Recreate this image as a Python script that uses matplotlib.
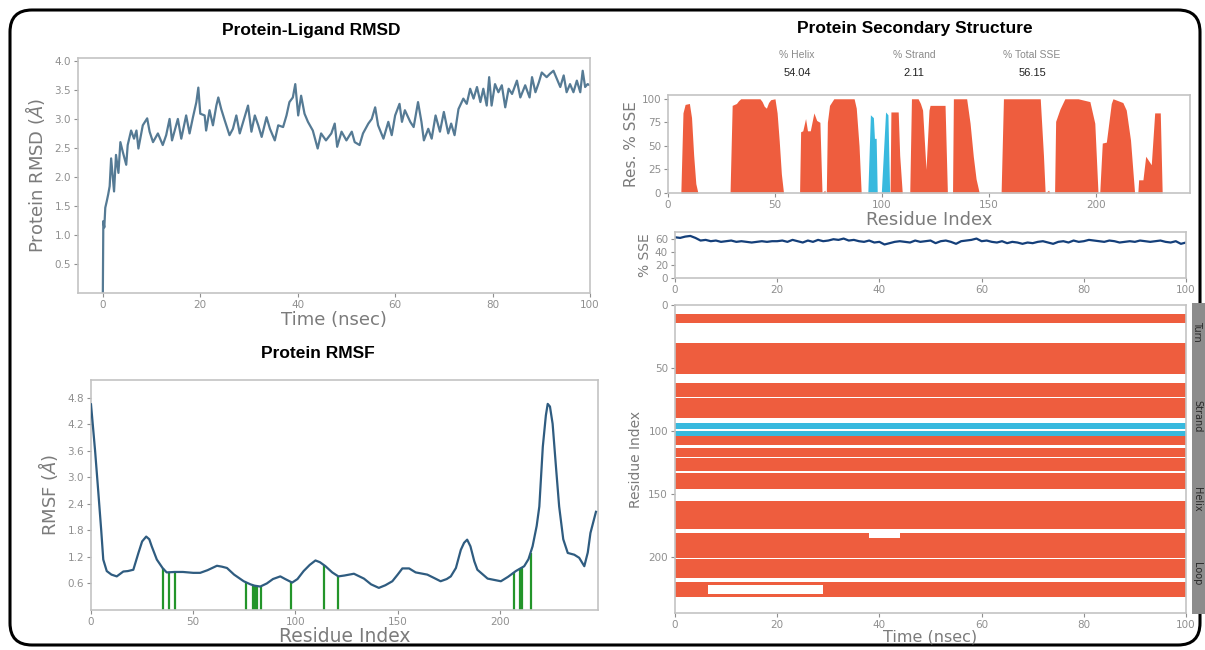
import numpy as np
import matplotlib
matplotlib.use("Agg")
import matplotlib.pyplot as plt
from matplotlib.patches import FancyBboxPatch
from matplotlib.colors import ListedColormap

# ---------------- data ----------------
rmsd_time = [0, 0.1, 0.3, 0.5, 0.8, 1.1, 1.4, 1.7, 2.3, 2.7,
             3.2, 3.6, 4.1, 4.8, 5.1, 5.8, 6.4, 6.9, 7.3, 8.2,
             9.1, 9.6, 10.3, 11.3, 12.3, 13.0, 13.7, 14.2, 15.4, 16.1,
             17.1, 17.8, 18.5, 19.2, 19.6, 20.0, 20.9, 21.2, 21.9, 22.6,
             23.3, 23.7, 24.3, 25.0, 26.0, 26.7, 27.4, 28.1, 28.8, 29.8,
             30.5, 31.2, 31.9, 32.6, 33.6, 34.3, 35.3, 36.0, 37.0, 37.7,
             38.3, 39.0, 39.5, 40.1, 40.7, 41.4, 42.1, 43.1, 44.1, 44.8,
             45.8, 46.9, 47.6, 48.1, 49.0, 50.0, 51.1, 51.7, 52.7, 53.4,
             54.5, 55.2, 55.9, 56.5, 57.6, 58.6, 59.3, 60.0, 60.9, 61.4,
             62.0, 63.1, 63.8, 64.7, 65.4, 65.9, 66.8, 67.5, 68.3, 69.2,
             70.0, 70.9, 71.5, 72.2, 73.0, 74.0, 74.7, 75.4, 76.1, 76.8,
             77.5, 78.1, 78.8, 79.3, 79.8, 80.5, 81.2, 81.9, 82.6, 83.3,
             84.0, 85.0, 85.7, 86.7, 87.6, 88.1, 88.8, 89.5, 90.1, 91.1,
             91.8, 92.5, 93.2, 93.9, 94.6, 95.2, 95.9, 96.6, 97.3, 98.0,
             98.5, 99.0, 99.5, 100.0]
rmsd_val = [0.02, 1.24, 1.13, 1.47, 1.58, 1.70, 1.84, 2.32, 1.75, 2.38,
            2.07, 2.60, 2.43, 2.21, 2.55, 2.80, 2.66, 2.80, 2.49, 2.89,
            3.01, 2.78, 2.60, 2.75, 2.55, 2.72, 3.00, 2.63, 3.00, 2.66,
            3.06, 2.75, 3.03, 3.29, 3.54, 3.09, 3.06, 2.80, 3.15, 2.89,
            3.23, 3.37, 3.17, 2.98, 2.72, 2.83, 3.06, 2.75, 2.95, 3.23,
            2.78, 3.06, 2.89, 2.69, 3.03, 2.83, 2.63, 2.89, 2.86, 3.06,
            3.29, 3.37, 3.60, 3.06, 3.40, 3.09, 2.95, 2.80, 2.49, 2.75,
            2.63, 2.75, 2.92, 2.52, 2.78, 2.63, 2.78, 2.60, 2.55, 2.75,
            2.92, 3.00, 3.20, 2.89, 2.66, 2.95, 2.72, 3.06, 3.26, 2.95,
            3.15, 2.95, 2.86, 3.29, 2.95, 2.63, 2.83, 2.66, 3.06, 2.78,
            3.12, 2.75, 2.92, 2.72, 3.17, 3.35, 3.26, 3.52, 3.35, 3.55,
            3.29, 3.52, 3.23, 3.72, 3.23, 3.60, 3.46, 3.58, 3.20, 3.52,
            3.43, 3.66, 3.37, 3.58, 3.37, 3.72, 3.46, 3.63, 3.80, 3.72,
            3.78, 3.83, 3.69, 3.55, 3.75, 3.46, 3.60, 3.46, 3.66, 3.46,
            3.83, 3.55, 3.60, 3.58]

rmsf_res = [0, 2, 3.6, 5, 6, 7.7, 10, 12.6, 15.8, 18,
            20.7, 23.2, 25, 27, 28.5, 29.7, 32.2, 35, 37, 41,
            45, 50, 53.4, 57, 61.6, 64, 66.5, 70, 74.7, 78,
            80, 82.8, 86, 89, 92.6, 95, 98.4, 101, 104, 107,
            109.8, 112, 114.7, 118, 121, 124, 128.6, 133.5, 137, 140.8,
            144, 147.4, 150, 152.3, 155.6, 158.8, 164.5, 168, 171, 174,
            176, 178.5, 180.9, 182.5, 184, 185.6, 187.5, 189, 194, 200.5,
            204, 207.8, 211.9, 214, 216, 218, 219.3, 221, 222.5, 223.4,
            224.5, 225.8, 227.5, 229, 231, 233.2, 236.4, 238.8, 241.3, 243,
            244.3, 247]
rmsf_val = [4.65, 3.6, 2.65, 1.8, 1.14, 0.88, 0.80, 0.76, 0.87, 0.88,
            0.91, 1.29, 1.55, 1.66, 1.60, 1.44, 1.14, 0.95, 0.85, 0.86,
            0.86, 0.84, 0.84, 0.90, 1.00, 0.98, 0.95, 0.80, 0.65, 0.58,
            0.55, 0.53, 0.60, 0.70, 0.76, 0.70, 0.62, 0.70, 0.88, 1.02,
            1.12, 1.08, 0.99, 0.85, 0.76, 0.78, 0.82, 0.71, 0.58, 0.50,
            0.56, 0.65, 0.80, 0.94, 0.94, 0.85, 0.80, 0.72, 0.65, 0.70,
            0.76, 0.95, 1.36, 1.52, 1.59, 1.44, 1.10, 0.91, 0.71, 0.65,
            0.75, 0.88, 0.99, 1.15, 1.44, 1.90, 2.34, 3.69, 4.40, 4.66,
            4.60, 4.21, 3.20, 2.34, 1.60, 1.29, 1.25, 1.18, 0.99, 1.30,
            1.74, 2.22]
contact_res = [35, 38, 41, 76, 79, 80, 81, 83, 98, 114, 121, 207, 210, 211, 215]

helix_res = [6, 7, 8, 10, 11, 12, 13, 14,
             29, 30, 32, 33, 34, 43, 44, 45, 46, 47, 48, 50, 51, 52, 53, 54,
             61.5, 62, 63, 64.3, 65.2, 66.5, 68.2, 69.5, 71, 72, 73.3, 73.6, 74,
             74.5, 75.5, 77.5, 87, 88, 89.3, 90.3,
             103.8, 104.2, 107.6, 108.3, 109.5,
             113, 113.8, 116.9, 118, 119, 120.6, 122, 122.5, 129.5, 130.6,
             133, 133.4, 139.6, 141.2, 142.7, 144, 145.5,
             155.7, 156.8, 174, 175.5, 176.3, 177.9, 178.5,
             180.7, 181.2, 183.2, 185.5, 191.7, 197.2, 199.5, 201,
             201.8, 203, 204.9, 207.2, 208, 212.6, 214.2, 216.2, 218.1,
             219.6, 220, 222, 223.3, 225.9, 227.5, 230.1, 231]
helix_pct = [0, 85, 94, 95, 80, 40, 10, 0,
             0, 93, 95, 98, 100, 100, 97, 92, 90, 96, 99, 100, 85, 55, 20, 0,
             0, 65, 66, 79, 66, 66, 85, 77, 75, 0, 3, 0, 0,
             75, 93, 100, 100, 90, 50, 0,
             0, 86, 86, 40, 0,
             0, 100, 100, 95, 88, 25, 88, 93, 93, 0,
             0, 100, 100, 74, 39, 15, 0,
             0, 100, 100, 40, 0, 3, 0,
             0, 76, 89, 100, 100, 97, 74, 0,
             0, 53, 54, 95, 100, 96, 88, 56, 0,
             0, 14, 14, 39, 30, 85, 85, 0]
strand_res = [93.4, 94.6, 96, 96.5, 97.3, 97.8, 99.7, 101.7, 102.8, 103.6]
strand_pct = [0, 83, 80, 58, 58, 0, 0, 86, 83, 0]

sse_summary_labels = ["% Helix", "% Strand", "% Total SSE"]
sse_summary_values = ["54.04", "2.11", "56.15"]

sse_time = list(range(101))
sse_total = [62, 61, 63, 64, 61, 57, 58, 56, 57, 55,
             56, 57, 55, 56, 55, 54, 55, 56, 55, 56,
             56, 57, 55, 58, 56, 54, 57, 55, 58, 56,
             57, 59, 58, 60, 57, 58, 56, 55, 57, 54,
             55, 51, 53, 55, 56, 55, 54, 57, 55, 56,
             57, 53, 56, 57, 55, 52, 56, 57, 58, 60,
             56, 57, 55, 54, 56, 53, 55, 54, 52, 54,
             53, 55, 56, 54, 52, 55, 56, 54, 57, 55,
             56, 58, 57, 56, 55, 57, 56, 54, 55, 56,
             55, 57, 56, 55, 56, 57, 55, 54, 56, 52,
             54]

# residue bands over time (start, end) inclusive
helix_bands = [(7, 13), (30, 54), (62, 72), (74, 89), (104, 110), (114, 120),
               (122, 131), (134, 145), (156, 177), (181, 200), (202, 216), (220, 231)]
strand_bands = [(94, 98), (100, 103)]
# white patches (time start, time end, residue start, residue end)
gap_patches = [(6.5, 29, 223, 229), (38, 44, 181, 184)]
cbar_labels = ["Turn", "Strand", "Helix", "Loop"]

# ---------------- figure ----------------
W, H = 1205, 650
fig = plt.figure(figsize=(W / 100, H / 100), dpi=100)

border = FancyBboxPatch((0.10, 0.05), 11.90, 6.35,
                        boxstyle="round,pad=0,rounding_size=0.22",
                        transform=fig.dpi_scale_trans, fill=False,
                        edgecolor="black", linewidth=2.2, zorder=-1)
fig.patches.append(border)


def ax_px(l, t, r, b):
    return fig.add_axes([l / W, 1 - b / H, (r - l) / W, (b - t) / H])


def ftext(x, y, s, **kw):
    fig.text(x / W, 1 - y / H, s, ha="center", va="center", **kw)


TICK = "#8f8f8f"
LAB = "#7b7b7b"
SPINE = "#c3c3c3"
ORANGE = "#EE5D3E"
CYAN = "#38B9DE"


def style(ax, fs=7.5):
    for s in ax.spines.values():
        s.set_color(SPINE)
        s.set_linewidth(1.2)
    ax.tick_params(colors=TICK, labelsize=fs, length=3, width=0.8, pad=2)


TITLE = dict(fontfamily="Liberation Sans", fontweight="bold", fontsize=12.5, color="black")

# ---- RMSD ----
ftext(311, 31, "Protein-Ligand RMSD", **TITLE)
ax1 = ax_px(78, 58, 590, 293)
ax1.plot(rmsd_time, rmsd_val, color="#557a94", lw=1.6)
ax1.set_xlim(-5.1, 100)
ax1.set_ylim(0, 4.05)
ax1.set_yticks([0.5, 1.0, 1.5, 2.0, 2.5, 3.0, 3.5, 4.0])
ax1.set_xticks([0, 20, 40, 60, 80, 100])
style(ax1)
ax1.set_xlabel("Time (nsec)", fontsize=13, color=LAB, labelpad=1)
ax1.set_ylabel(r"Protein RMSD ($\AA$)", fontsize=13, color=LAB, labelpad=5)

# ---- RMSF ----
ftext(318, 354, "Protein RMSF", **TITLE)
ax2 = ax_px(91, 380, 598, 610)
ax2.plot(rmsf_res, rmsf_val, color="#2f5c80", lw=1.6, zorder=3)
tops = np.interp(contact_res, rmsf_res, rmsf_val)
ax2.vlines(contact_res, 0, tops, color="#23952a", lw=1.6, zorder=2)
ax2.set_xlim(0, 248)
ax2.set_ylim(0, 5.2)
ax2.set_yticks([0.6, 1.2, 1.8, 2.4, 3.0, 3.6, 4.2, 4.8])
ax2.set_xticks([0, 50, 100, 150, 200])
style(ax2)
ax2.set_xlabel("Residue Index", fontsize=13.5, color=LAB, labelpad=0)
ax2.set_ylabel(r"RMSF ($\AA$)", fontsize=13, color=LAB, labelpad=5)

# ---- Secondary structure header ----
ftext(915, 28, "Protein Secondary Structure", **TITLE)
for xx, lab, val in zip([797, 914, 1032], sse_summary_labels, sse_summary_values):
    ftext(xx, 55, lab, fontfamily="Liberation Sans", fontsize=7.5, color="#8a8a8a")
    ftext(xx, 73, val, fontfamily="Liberation Sans", fontsize=8, color="#222222")

# ---- SSE per residue ----
ax3 = ax_px(668, 95, 1190, 193)
ax3.fill_between(helix_res, helix_pct, 0, color=ORANGE, lw=0)
ax3.fill_between(strand_res, strand_pct, 0, color=CYAN, lw=0)
ax3.set_xlim(0, 244)
ax3.set_ylim(0, 104)
ax3.set_yticks([0, 25, 50, 75, 100])
ax3.set_xticks([0, 50, 100, 150, 200])
style(ax3)
ax3.set_xlabel("Residue Index", fontsize=13, color=LAB, labelpad=1)
ax3.set_ylabel("Res. % SSE", fontsize=11, color=LAB, labelpad=2)

# ---- % SSE over time ----
ax4 = ax_px(675, 232, 1186, 278)
ax4.plot(sse_time, sse_total, color="#143f7a", lw=1.6)
ax4.set_xlim(0, 100)
ax4.set_ylim(0, 70)
ax4.set_yticks([0, 20, 40, 60])
ax4.set_xticks([0, 20, 40, 60, 80, 100])
style(ax4)
ax4.set_ylabel("% SSE", fontsize=10, color=LAB, labelpad=2)

# ---- SSE timeline heatmap ----
n_res, n_frames = 245, 500
grid = np.zeros((n_res, n_frames))
for s, e in helix_bands:
    grid[s:e + 1, :] = 1
for s, e in strand_bands:
    grid[s:e + 1, :] = 2
for t0, t1, r0, r1 in gap_patches:
    grid[r0:r1 + 1, int(t0 / 100 * n_frames):int(t1 / 100 * n_frames)] = 0

ax5 = ax_px(675, 305, 1186, 613)
ax5.imshow(grid, cmap=ListedColormap(["white", ORANGE, CYAN]), vmin=0, vmax=2,
           aspect="auto", interpolation="nearest", extent=[0, 100, 244, 0])
ax5.set_xlim(0, 100)
ax5.set_ylim(244, 0)
ax5.set_yticks([0, 50, 100, 150, 200])
ax5.set_xticks([0, 20, 40, 60, 80, 100])
style(ax5)
ax5.set_ylabel("Residue Index", fontsize=10, color=LAB, labelpad=4)
ax5.set_xlabel("Time (nsec)", fontsize=11.5, color=LAB, labelpad=0)

# ---- side legend bar ----
ax6 = ax_px(1192, 303, 1215, 614)
ax6.set_facecolor("#8c8c8c")
ax6.set_xticks([])
ax6.set_yticks([])
for s in ax6.spines.values():
    s.set_visible(False)
for yy, lab in zip([0.91, 0.635, 0.37, 0.13], cbar_labels):
    ax6.text(0.22, yy, lab, rotation=270, ha="center", va="center",
             fontsize=7, color="#2a2a2a", transform=ax6.transAxes)

fig.savefig("out.png", dpi=100)
